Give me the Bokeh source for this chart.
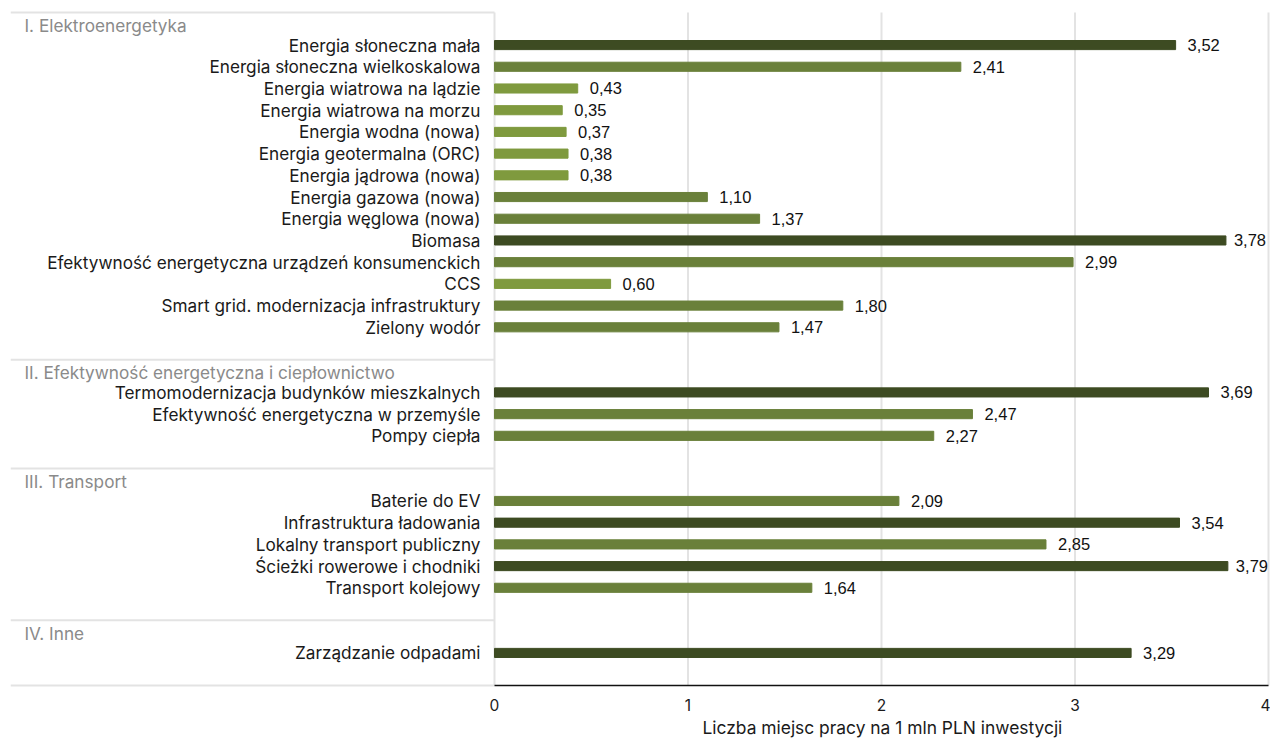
from bokeh.plotting import figure
from bokeh.models import Range1d, FixedTicker, Title, ColumnDataSource
from bokeh.core.properties import value
from bokeh.embed import file_html
from bokeh.resources import INLINE

# ---- data ----
group_titles = [
    "I. Elektroenergetyka",
    "II. Efektywność energetyczna i ciepłownictwo",
    "III. Transport",
    "IV. Inne",
]
group1_names = [
    "Energia słoneczna mała",
    "Energia słoneczna wielkoskalowa",
    "Energia wiatrowa na lądzie",
    "Energia wiatrowa na morzu",
    "Energia wodna (nowa)",
    "Energia geotermalna (ORC)",
    "Energia jądrowa (nowa)",
    "Energia gazowa (nowa)",
    "Energia węglowa (nowa)",
    "Biomasa",
    "Efektywność energetyczna urządzeń konsumenckich",
    "CCS",
    "Smart grid. modernizacja infrastruktury",
    "Zielony wodór",
]
group1_values = [3.52, 2.41, 0.43, 0.35, 0.37, 0.38, 0.38, 1.10, 1.37, 3.78, 2.99, 0.60, 1.80, 1.47]
group2_names = [
    "Termomodernizacja budynków mieszkalnych",
    "Efektywność energetyczna w przemyśle",
    "Pompy ciepła",
]
group2_values = [3.69, 2.47, 2.27]
group3_names = [
    "Baterie do EV",
    "Infrastruktura ładowania",
    "Lokalny transport publiczny",
    "Ścieżki rowerowe i chodniki",
    "Transport kolejowy",
]
group3_values = [2.09, 3.54, 2.85, 3.79, 1.64]
group4_names = ["Zarządzanie odpadami"]
group4_values = [3.29]
x_ticks = [0, 1, 2, 3, 4]
x_title = "Liczba miejsc pracy na 1 mln PLN inwestycji"

# ---- styling ----
DARK, MID, LIGHT = "#3d4b22", "#6a803a", "#7f9a3e"
FONT = "Inter"

groups = [
    (group1_names, group1_values),
    (group2_names, group2_values),
    (group3_names, group3_values),
    (group4_names, group4_values),
]

rows, names, vals, header_rows, sep_rows = [], [], [], [], [-0.5]
r = 0
for (nm, vs) in groups:
    header_rows.append(r)
    r += 1
    for n, v in zip(nm, vs):
        rows.append(r)
        names.append(n)
        vals.append(v)
        r += 1
    r += 1  # blank row
    sep_rows.append(r - 0.5)

colors = [DARK if v > 3 else (LIGHT if v < 1 else MID) for v in vals]
labels = [f"{v:.2f}".replace(".", ",") for v in vals]
# labels near the right edge are nudged closer to the bar so they fit
offsets = [8 if v > 3.75 else 12 for v in vals]

src = ColumnDataSource(dict(y=rows, v=vals, c=colors, name=names, lab=labels,
                            off=offsets, zero=[0] * len(rows)))

PX = 193.5     # px per x unit
ROW = 673 / 31  # px per row
LEFT = 494 - 10
x_start = -LEFT / PX
x_end = 4 + 2 / PX
y_bottom = 30.5 + 5 / ROW
y_top = -0.5 - 4 / ROW

p = figure(width=1270, height=740, frame_width=1260, frame_height=682,
           min_border_left=10, min_border_right=0, min_border_top=8, min_border_bottom=0,
           x_range=Range1d(x_start, x_end), y_range=Range1d(y_bottom, y_top),
           y_axis_location=None, toolbar_location=None, output_backend="svg")
p.outline_line_color = None
p.xgrid.visible = False
p.ygrid.visible = False

# gridlines
p.segment(x0=x_ticks, x1=x_ticks, y0=[-0.5] * len(x_ticks), y1=[30.5] * len(x_ticks),
          line_color="#e3e3e3", line_width=2)
# separators on the label side
p.segment(x0=[x_start] * len(sep_rows), x1=[0] * len(sep_rows), y0=sep_rows, y1=sep_rows,
          line_color="#e3e3e3", line_width=2)
# axis line
p.segment(x0=[0], x1=[4], y0=[30.5], y1=[30.5], line_color="#111111", line_width=1.6)

# bars
p.hbar(y="y", left="zero", right="v", height=0.42, color="c", source=src)

# value labels
p.text(x="v", y="y", text="lab", source=src, x_offset="off", text_baseline="middle",
       text_align="left", text_font=value("Liberation Sans"), text_font_size="16.5px",
       text_color="#111111")

# category labels
p.text(x=-14 / PX, y="y", text="name", source=src, text_baseline="middle",
       text_align="right", text_font=value(FONT), text_font_size="17.2px",
       text_color="#1a1a1a")

# group headers
p.text(x=[(24 - 494) / PX] * len(header_rows), y=[h + 0.1 for h in header_rows],
       text=group_titles, text_baseline="middle", text_align="left",
       text_font=value(FONT), text_font_size="17.2px", text_color="#8a8a8a")

# x axis
ax = p.xaxis[0]
ax.ticker = FixedTicker(ticks=x_ticks)
ax.axis_line_color = None
ax.major_tick_line_color = None
ax.minor_tick_line_color = None
ax.major_label_standoff = 2
ax.major_label_text_font = FONT
ax.major_label_text_font_size = "15.5px"
ax.major_label_text_color = "#1a1a1a"

p.add_layout(Title(text=x_title, align="left", offset=692, text_font=FONT,
                   text_font_size="17.4px", text_font_style="normal",
                   text_color="#1a1a1a", standoff=2), "below")

open("out.html", "w").write(file_html(p, INLINE))
